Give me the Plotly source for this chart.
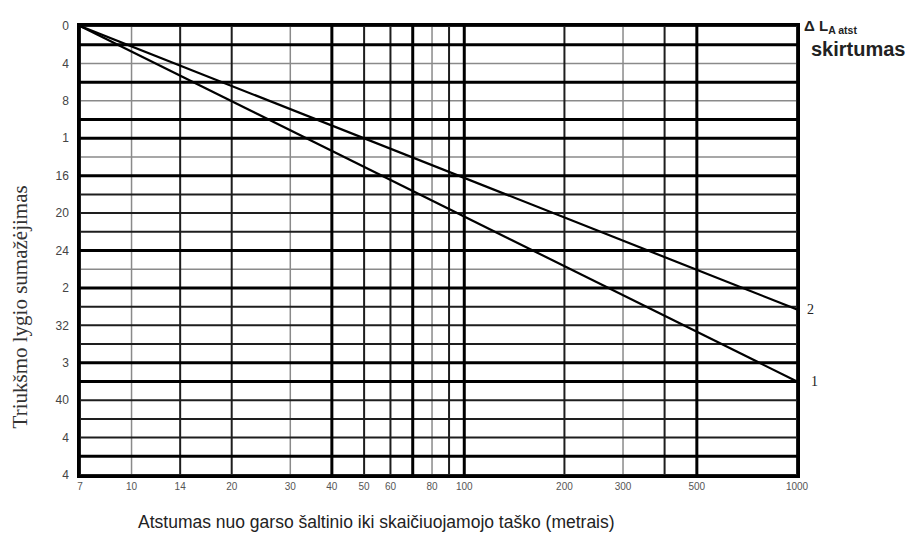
import math
import plotly.graph_objects as go

# ---- data ----
distance_ticks = [7, 10, 14, 20, 30, 40, 50, 60, 80, 100, 200, 300, 500, 1000]
distance_labels = ["7", "10", "14", "20", "30", "40", "50", "60", "80", "100", "200", "300", "500", "1000"]
distance_grid = [7, 10, 14, 20, 30, 40, 50, 60, 70, 80, 90, 100, 200, 300, 400, 500, 1000]
level_ticks = [0, 4, 8, 12, 16, 20, 24, 28, 32, 36, 40, 44, 48]
level_labels = ["0", "4", "8", "1", "16", "20", "24", "2", "32", "3", "40", "4", "4"]
level_grid = list(range(0, 50, 2))

line1_distance = [7, 1000]
line1_reduction = [0, 38]
line2_distance = [7, 1000]
line2_reduction = [0, 30.3]

# grid emphasis (as in the scanned nomogram)
v_thick = [40, 70, 100, 500]
v_gray = [10, 30, 80, 300]
h_thick = [2, 6, 10, 12, 16, 24, 28, 36, 38, 46]
h_gray = [4, 8, 14, 26]

fig = go.Figure()

def vlines(vals, width, color):
    xs, ys = [], []
    for v in vals:
        xs += [v, v, None]
        ys += [0, 48, None]
    fig.add_trace(go.Scatter(x=xs, y=ys, mode="lines", line=dict(color=color, width=width),
                             hoverinfo="skip", showlegend=False))

def hlines(vals, width, color):
    xs, ys = [], []
    for v in vals:
        xs += [7, 1000, None]
        ys += [v, v, None]
    fig.add_trace(go.Scatter(x=xs, y=ys, mode="lines", line=dict(color=color, width=width),
                             hoverinfo="skip", showlegend=False))

v_dark = [v for v in distance_grid if v not in v_thick and v not in v_gray]
h_dark = [v for v in level_grid if v not in h_thick and v not in h_gray]

vlines(v_gray, 1.5, "#8a8a8a")
hlines(h_gray, 1.5, "#8a8a8a")
vlines(v_dark, 2, "#1e1e1e")
hlines(h_dark, 2, "#1e1e1e")
vlines(v_thick, 3, "#000000")
hlines(h_thick, 3, "#000000")

fig.add_trace(go.Scatter(x=line1_distance, y=line1_reduction, mode="lines",
                         line=dict(color="#000000", width=2.2), showlegend=False, name="1"))
fig.add_trace(go.Scatter(x=line2_distance, y=line2_reduction, mode="lines",
                         line=dict(color="#000000", width=2.2), showlegend=False, name="2"))

fig.update_xaxes(type="log", range=[math.log10(7), math.log10(1000)],
                 tickmode="array", tickvals=distance_ticks, ticktext=distance_labels,
                 showgrid=False, zeroline=False, showline=True, linewidth=2.5, linecolor="#000",
                 mirror=True, ticks="", tickfont=dict(family="Liberation Sans, Arial", size=10, color="#555"))
fig.update_yaxes(range=[48, 0], tickmode="array", tickvals=level_ticks, ticktext=level_labels,
                 showgrid=False, zeroline=False, showline=True, linewidth=2.5, linecolor="#000",
                 mirror=True, ticks="", ticklabelstandoff=6,
                 tickfont=dict(family="Liberation Sans, Arial", size=12, color="#444"))

fig.add_annotation(text="Triukšmo lygio sumažėjimas", xref="paper", yref="paper",
                   x=-0.084, xanchor="center", y=0.375, yanchor="middle", textangle=-90, showarrow=False,
                   font=dict(family="Liberation Serif, Times New Roman", size=21, color="#333"))
fig.add_annotation(text="Atstumas nuo garso šaltinio iki skaičiuojamojo taško (metrais)",
                   xref="paper", yref="paper", x=0.413, xanchor="center", y=-0.105, yanchor="middle",
                   showarrow=False,
                   font=dict(family="Liberation Sans, Arial", size=17.5, color="#222"))
fig.add_annotation(text="<b>Δ L<sub>A atst</sub></b>", xref="paper", yref="paper",
                   x=1, xshift=5, xanchor="left", y=1, yshift=0, yanchor="middle", showarrow=False,
                   font=dict(family="Liberation Sans, Arial", size=15, color="#222"))
fig.add_annotation(text="<b>skirtumas</b>", xref="paper", yref="paper",
                   x=1, xshift=12, xanchor="left", y=1, yshift=-23, yanchor="middle", showarrow=False,
                   font=dict(family="Liberation Sans, Arial", size=20, color="#222"))
fig.add_annotation(text="2", xref="paper", yref="y", x=1, xshift=8, xanchor="left",
                   y=line2_reduction[-1], yanchor="middle", showarrow=False,
                   font=dict(family="Liberation Serif, Times New Roman", size=14, color="#222"))
fig.add_annotation(text="1", xref="paper", yref="y", x=1, xshift=12, xanchor="left",
                   y=line1_reduction[-1], yanchor="middle", showarrow=False,
                   font=dict(family="Liberation Serif, Times New Roman", size=14, color="#222"))

fig.update_layout(width=905, height=529, margin=dict(l=72, r=116, t=11, b=62),
                  plot_bgcolor="white", paper_bgcolor="white")

fig.write_html("out.html")
